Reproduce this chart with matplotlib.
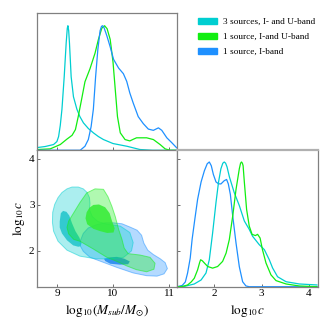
import numpy as np
from matplotlib import pyplot as plt
from matplotlib.patches import Patch

plt.rcParams['font.family'] = ['Liberation Serif', 'DejaVu Serif']
plt.rcParams['mathtext.fontset'] = 'stix'

labels = ['3 sources, I- and U-band', '1 source, I-and U-band', '1 source, I-band']
colors = ['#00ced1', '#11ee11', '#1e90ff']

# marginal of log10(Msub/Msun), normalised to peak 1
m_cyan_x = [8.655, 8.79, 8.94, 9.0, 9.03, 9.06, 9.09, 9.13, 9.165, 9.185, 9.196, 9.21, 9.224,
            9.254, 9.295, 9.356, 9.41, 9.473, 9.56, 9.65, 9.74, 9.83, 10.0, 10.25, 10.48, 10.7, 11.15]
m_cyan_y = [0.022, 0.03, 0.046, 0.07, 0.11, 0.20, 0.33, 0.59, 0.86, 0.98, 1.0, 0.96, 0.86,
            0.59, 0.43, 0.33, 0.27, 0.22, 0.175, 0.14, 0.11, 0.086, 0.054, 0.032, 0.006, 0.0, 0.0]
m_green_x = [8.655, 8.88, 9.06, 9.18, 9.27, 9.33, 9.38, 9.445, 9.50, 9.59, 9.68, 9.74, 9.80,
             9.85, 9.895, 9.95, 10.0, 10.04, 10.08, 10.13, 10.215, 10.30, 10.36, 10.42, 10.60,
             10.72, 10.84, 10.93, 11.02, 11.15]
m_green_y = [0.006, 0.011, 0.046, 0.09, 0.12, 0.166, 0.27, 0.42, 0.55, 0.655, 0.78, 0.89, 0.98,
             1.0, 0.976, 0.89, 0.71, 0.49, 0.27, 0.14, 0.086, 0.075, 0.088, 0.10, 0.10,
             0.086, 0.046, 0.011, 0.0, 0.0]
m_blue_x = [8.655, 9.415, 9.50, 9.56, 9.61, 9.65, 9.69, 9.73, 9.77, 9.795, 9.815, 9.84, 9.89,
            9.95, 10.01, 10.10, 10.185, 10.245, 10.30, 10.36, 10.45, 10.54, 10.63, 10.72, 10.81,
            10.87, 10.96, 11.05, 11.135]
m_blue_y = [0.0, 0.0, 0.032, 0.086, 0.19, 0.33, 0.59, 0.81, 0.96, 0.995, 1.0, 0.985, 0.92,
            0.83, 0.73, 0.66, 0.615, 0.553, 0.46, 0.38, 0.27, 0.214, 0.17, 0.16, 0.18,
            0.16, 0.10, 0.06, 0.02]

# marginal of log10 c
c_cyan_x = [1.21, 1.36, 1.576, 1.72, 1.824, 1.894, 1.964, 2.036, 2.09, 2.14, 2.18, 2.21, 2.24,
            2.27, 2.32, 2.42, 2.53, 2.636, 2.74, 2.81, 2.95, 3.06, 3.165, 3.235, 3.34, 3.52, 3.80,
            4.175]
c_cyan_y = [0.0, 0.002, 0.022, 0.054, 0.11, 0.216, 0.43, 0.676, 0.84, 0.946, 0.99, 1.0, 0.99,
            0.96, 0.88, 0.757, 0.65, 0.527, 0.46, 0.405, 0.338, 0.297, 0.216, 0.15, 0.08, 0.04, 0.022,
            0.014]
c_green_x = [1.21, 1.32, 1.434, 1.51, 1.576, 1.646, 1.69, 1.71, 1.746, 1.79, 1.86, 1.964, 2.07,
             2.176, 2.25, 2.318, 2.39, 2.46, 2.53, 2.556, 2.576, 2.595, 2.61, 2.636, 2.684, 2.74,
             2.80, 2.87, 2.917, 2.97, 3.02, 3.095, 3.20, 3.307, 3.52, 3.80, 4.175]
c_green_y = [0.0, 0.002, 0.014, 0.038, 0.068, 0.135, 0.195, 0.216, 0.208, 0.19, 0.162, 0.149,
             0.162, 0.203, 0.27, 0.378, 0.567, 0.78, 0.946, 0.99, 1.0, 0.99, 0.97, 0.84, 0.62,
             0.486, 0.42, 0.41, 0.42, 0.39, 0.297, 0.19, 0.095, 0.049, 0.022, 0.006, 0.0]
c_blue_x = [1.21, 1.32, 1.386, 1.434, 1.49, 1.53, 1.587, 1.646, 1.72, 1.79, 1.85, 1.894, 1.936,
            1.98, 2.036, 2.09, 2.14, 2.21, 2.26, 2.297, 2.34, 2.39, 2.46, 2.53, 2.60, 2.67, 2.74,
            4.175]
c_blue_y = [0.0, 0.01, 0.038, 0.11, 0.23, 0.38, 0.54, 0.70, 0.84, 0.93, 0.986, 1.0, 0.97,
            0.90, 0.84, 0.825, 0.824, 0.85, 0.86, 0.824, 0.74, 0.567, 0.35, 0.16, 0.04, 0.006, 0.0,
            0.0]

# 2D contours (68% inner, 95% outer), vertices (log10 Msub, log10 c)
cyan_outer = [(8.92, 2.62), (8.925, 2.84), (8.96, 3.01), (9.02, 3.16), (9.09, 3.27), (9.18, 3.35),
              (9.27, 3.39), (9.38, 3.39), (9.47, 3.35), (9.54, 3.27), (9.58, 3.16), (9.59, 3.03),
              (9.58, 2.90), (9.63, 2.75), (9.73, 2.64), (9.89, 2.58), (10.13, 2.54), (10.30, 2.40),
              (10.36, 2.18), (10.33, 2.0), (10.19, 1.86), (9.95, 1.82), (9.68, 1.83), (9.41, 1.885),
              (9.18, 2.015), (9.02, 2.21), (8.94, 2.43)]
cyan_inner = [(9.05, 2.64), (9.07, 2.82), (9.11, 2.87), (9.17, 2.85), (9.22, 2.77), (9.27, 2.60),
              (9.33, 2.43), (9.40, 2.29), (9.44, 2.17), (9.42, 2.10), (9.38, 2.09), (9.29, 2.12),
              (9.18, 2.23), (9.09, 2.38), (9.05, 2.51)]
green_outer = [(9.53, 3.26), (9.68, 3.35), (9.83, 3.34), (9.91, 3.18), (9.98, 2.97), (10.04, 2.75),
               (10.10, 2.47), (10.16, 2.25), (10.20, 2.06), (10.27, 1.94), (10.48, 1.91), (10.66, 1.86),
               (10.75, 1.73), (10.73, 1.60), (10.60, 1.545), (10.42, 1.59), (10.25, 1.67), (10.07, 1.77),
               (9.89, 1.86), (9.65, 2.04), (9.41, 2.21), (9.30, 2.25), (9.21, 2.37), (9.18, 2.51),
               (9.21, 2.65), (9.30, 2.83), (9.41, 3.05)]
green_inner = [(9.58, 2.94), (9.65, 3.00), (9.75, 3.01), (9.86, 2.95), (9.94, 2.82), (9.98, 2.66),
               (10.03, 2.49), (10.01, 2.40), (9.895, 2.39), (9.77, 2.43), (9.65, 2.48), (9.54, 2.58),
               (9.51, 2.71), (9.53, 2.84)]
blue_outer = [(9.415, 2.21), (9.47, 2.38), (9.56, 2.50), (9.71, 2.57), (9.86, 2.61), (10.01, 2.61),
              (10.16, 2.59), (10.30, 2.52), (10.43, 2.45), (10.51, 2.34), (10.55, 2.17), (10.62, 2.015),
              (10.72, 1.92), (10.84, 1.83), (10.93, 1.745), (10.97, 1.615), (10.91, 1.50), (10.785, 1.45),
              (10.60, 1.46), (10.36, 1.52), (10.07, 1.64), (9.83, 1.75), (9.59, 1.86), (9.47, 1.99),
              (9.42, 2.10)]
blue_inner = [(9.84, 1.83), (9.95, 1.86), (10.07, 1.87), (10.20, 1.83), (10.30, 1.77), (10.27, 1.71),
              (10.13, 1.70), (9.95, 1.72), (9.86, 1.78)]

m_ticks = [9, 10, 11]
c_ticks = [2, 3, 4]
m_lim = (8.65, 11.15)
c_lim = (1.22, 4.19)
d_top = 1.10

fig = plt.figure(figsize=(3.32, 3.32), dpi=100)
L, W, B, H = 0.1123, 0.4223, 0.1364, 0.411
ax_m = fig.add_axes([L, B + H, W, 0.96 - B - H])
ax_mc = fig.add_axes([L, B, W, H])
ax_c = fig.add_axes([L + W, B, W, H])

spine_c = '#808080'
for ax in (ax_m, ax_mc, ax_c):
    for s in ax.spines.values():
        s.set_color(spine_c)
        s.set_linewidth(0.9)
    ax.tick_params(direction='in', length=2.5, width=0.6, color='#555555',
                   labelsize=8, pad=2)
ax_c.spines['top'].set_color('#b0b0b0')
ax_c.spines['top'].set_linewidth(1.6)

# top marginal
for xs, ys, col in [(m_cyan_x, m_cyan_y, colors[0]), (m_green_x, m_green_y, colors[1]),
                    (m_blue_x, m_blue_y, colors[2])]:
    ax_m.plot(xs, ys, color=col, lw=0.9, solid_joinstyle='round')
ax_m.set_xlim(*m_lim)
ax_m.set_ylim(0, d_top)
ax_m.set_xticks(m_ticks)
ax_m.set_xticklabels([])
ax_m.set_yticks([])

# 2D
inner_cols = ['#1ec4ca', '#33ec33', '#1e86ee']
for outer, inner, col, icol in [(blue_outer, blue_inner, colors[2], inner_cols[2]),
                                (cyan_outer, cyan_inner, colors[0], inner_cols[0]),
                                (green_outer, green_inner, colors[1], inner_cols[1])]:
    ox, oy = zip(*outer)
    ix, iy = zip(*inner)
    ax_mc.fill(ox, oy, color=col, alpha=0.33, lw=0)
    ax_mc.fill(ox, oy, fc='none', ec=col, alpha=0.5, lw=0.7)
    ax_mc.fill(ix, iy, color=icol, alpha=0.85, lw=0)
ax_mc.set_xlim(*m_lim)
ax_mc.set_ylim(*c_lim)
ax_mc.set_xticks(m_ticks)
ax_mc.set_yticks(c_ticks)
ax_mc.set_xlabel(r'$\mathrm{log}_{10}(M_{sub}/M_{\odot})$', fontsize=9.5, labelpad=3)
ax_mc.set_ylabel(r'$\mathrm{log}_{10}c$', fontsize=9.5, labelpad=1)

# right marginal
d_right = 1.094
for xs, ys, col in [(c_blue_x, c_blue_y, colors[2]), (c_cyan_x, c_cyan_y, colors[0]),
                    (c_green_x, c_green_y, colors[1])]:
    ax_c.plot(xs, ys, color=col, lw=0.9, solid_joinstyle='round')
ax_c.set_xlim(*c_lim)
ax_c.set_ylim(0, d_right)
ax_c.set_xticks(c_ticks)
ax_c.set_yticks([(t - c_lim[0]) / (c_lim[1] - c_lim[0]) * d_right for t in c_ticks])
ax_c.set_yticklabels([])
ax_c.set_xlabel(r'$\mathrm{log}_{10}c$', fontsize=9.5, labelpad=3)

handles = [Patch(color=c) for c in colors]
fig.legend(handles, labels, loc='upper left', bbox_to_anchor=(0.585, 0.958), frameon=False,
           fontsize=6.7, handlelength=2.0, handleheight=0.7, handletextpad=0.7,
           labelspacing=0.7, borderaxespad=0)

plt.savefig('out.png', dpi=100)
